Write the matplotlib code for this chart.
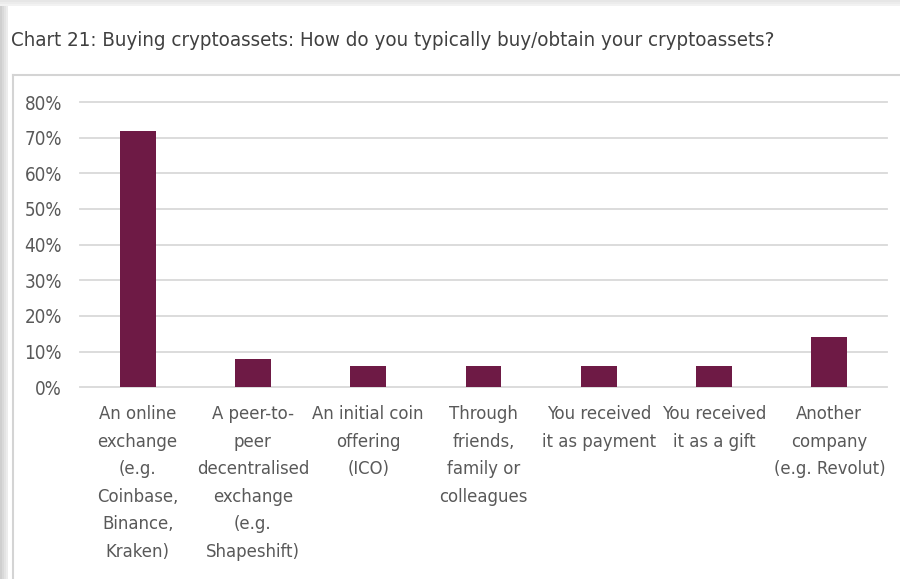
import matplotlib
matplotlib.use("Agg")
import matplotlib.pyplot as plt
from matplotlib.patches import Rectangle
from matplotlib.lines import Line2D
from matplotlib.ticker import FuncFormatter

categories = [
    "An online\nexchange\n(e.g.\nCoinbase,\nBinance,\nKraken)",
    "A peer-to-\npeer\ndecentralised\nexchange\n(e.g.\nShapeshift)",
    "An initial coin\noffering\n(ICO)",
    "Through\nfriends,\nfamily or\ncolleagues",
    "You received\nit as payment",
    "You received\nit as a gift",
    "Another\ncompany\n(e.g. Revolut)",
]
shares = [0.72, 0.08, 0.06, 0.06, 0.06, 0.06, 0.14]
yticks = [0.0, 0.1, 0.2, 0.3, 0.4, 0.5, 0.6, 0.7, 0.8]

title = "Chart 21: Buying cryptoassets: How do you typically buy/obtain your cryptoassets?"

text_color = "#595959"
bar_color = "#6e1a45"
grid_color = "#d9d9d9"

plt.rcParams["font.family"] = ["DejaVu Sans"]
plt.rcParams["font.stretch"] = "condensed"

W, H = 900, 579
fig = plt.figure(figsize=(W / 100, H / 100), dpi=100)
fig.patch.set_facecolor("white")

# soft grey page edge on the left and top
for i, c in enumerate(["#cfcfcf", "#d9d9d9", "#e3e3e3", "#ececec"]):
    fig.add_artist(Rectangle((i * 2 / W, 0), 2 / W, 1, transform=fig.transFigure,
                             facecolor=c, edgecolor="none", zorder=0))
for i, c in enumerate(["#e6e6e6", "#ececec", "#f2f2f2"]):
    fig.add_artist(Rectangle((0, 1 - (i + 1) * 2 / H), 1, 2 / H, transform=fig.transFigure,
                             facecolor=c, edgecolor="none", zorder=0))

# frame around the chart body
fx, fy = 13 / W, 1 - 75 / H
fig.add_artist(Line2D([fx, 1], [fy, fy], transform=fig.transFigure, color="#d4d4d4", lw=1.5))
fig.add_artist(Line2D([fx, fx], [0, fy], transform=fig.transFigure, color="#d4d4d4", lw=1.5))

fig.text(11 / W, 1 - 40 / H, title, ha="left", va="center", fontsize=14.7, color="#404040")

ax = fig.add_axes([80 / W, 191.7 / H, 807 / W, (387.3 - 102) / H])
x = range(len(categories))
ax.bar(x, shares, width=0.31, color=bar_color, zorder=3)
ax.set_xlim(-0.5, len(categories) - 0.5)
ax.set_ylim(0, 0.8)
ax.set_yticks(yticks)
ax.yaxis.set_major_formatter(FuncFormatter(lambda v, p: f"{v * 100:.0f}%"))
ax.set_xticks(list(x))
ax.set_xticklabels(categories, fontsize=13.2, color=text_color, linespacing=1.68)
ax.tick_params(axis="y", length=0, pad=13, labelsize=13.5, labelcolor=text_color)
ax.tick_params(axis="x", length=0, pad=13)
ax.grid(axis="y", color=grid_color, lw=1.3, zorder=0)
for gl in ax.get_ygridlines():
    gl.set_clip_on(False)
for s in ax.spines.values():
    s.set_visible(False)
ax.set_facecolor("none")

fig.savefig("out.png", dpi=100, facecolor="white")
